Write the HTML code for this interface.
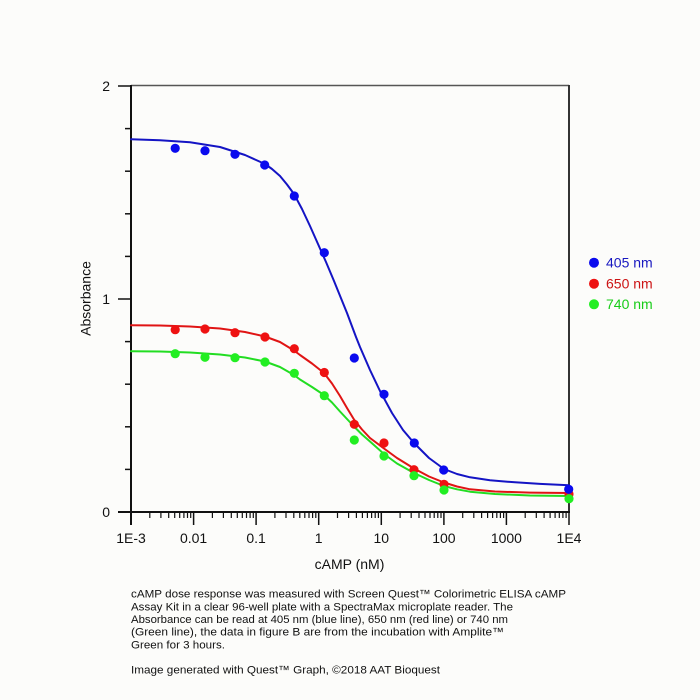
<!DOCTYPE html>
<html>
<head>
<meta charset="utf-8">
<style>
html,body{margin:0;padding:0;background:#fcfcfa;}
svg{display:block;}
text{font-family:"Liberation Sans",Arial,sans-serif;}
</style>
</head>
<body>
<svg width="700" height="700" viewBox="0 0 700 700" xmlns="http://www.w3.org/2000/svg">
<rect x="0" y="0" width="700" height="700" fill="#fcfcfa"/>

<!-- frame -->
<line x1="131" y1="85.5" x2="569" y2="85.5" stroke="#555" stroke-width="1.5"/>
<line x1="569" y1="85" x2="569" y2="513" stroke="#333" stroke-width="2"/>
<!-- left axis -->
<line x1="131" y1="85" x2="131" y2="525" stroke="#111" stroke-width="2"/>
<!-- bottom axis -->
<line x1="118" y1="512" x2="570" y2="512" stroke="#111" stroke-width="2"/>

<!-- y ticks -->
<g stroke="#111" stroke-width="1.5">
<line x1="118" y1="86" x2="131" y2="86"/>
<line x1="118" y1="299" x2="131" y2="299"/>
<line x1="125" y1="128.6" x2="131" y2="128.6"/>
<line x1="125" y1="171.2" x2="131" y2="171.2"/>
<line x1="125" y1="213.8" x2="131" y2="213.8"/>
<line x1="125" y1="256.4" x2="131" y2="256.4"/>
<line x1="125" y1="341.6" x2="131" y2="341.6"/>
<line x1="125" y1="384.2" x2="131" y2="384.2"/>
<line x1="125" y1="426.8" x2="131" y2="426.8"/>
<line x1="125" y1="469.4" x2="131" y2="469.4"/>
</g>

<!-- x ticks -->
<g stroke="#111" stroke-width="1.5">
<line x1="193.6" y1="512" x2="193.6" y2="525"/>
<line x1="256.1" y1="512" x2="256.1" y2="525"/>
<line x1="318.7" y1="512" x2="318.7" y2="525"/>
<line x1="381.3" y1="512" x2="381.3" y2="525"/>
<line x1="443.9" y1="512" x2="443.9" y2="525"/>
<line x1="506.4" y1="512" x2="506.4" y2="525"/>
<line x1="569" y1="512" x2="569" y2="525"/>
</g>
<g stroke="#111" stroke-width="1.2" id="minors">
<!-- decade 1E-3 -->
<line x1="149.8" y1="512" x2="149.8" y2="518"/><line x1="160.9" y1="512" x2="160.9" y2="518"/><line x1="168.7" y1="512" x2="168.7" y2="518"/><line x1="174.7" y1="512" x2="174.7" y2="518"/><line x1="179.7" y1="512" x2="179.7" y2="518"/><line x1="183.9" y1="512" x2="183.9" y2="518"/><line x1="187.5" y1="512" x2="187.5" y2="518"/><line x1="190.7" y1="512" x2="190.7" y2="518"/>
<!-- decade 0.01 -->
<line x1="212.4" y1="512" x2="212.4" y2="518"/><line x1="223.4" y1="512" x2="223.4" y2="518"/><line x1="231.3" y1="512" x2="231.3" y2="518"/><line x1="237.3" y1="512" x2="237.3" y2="518"/><line x1="242.3" y1="512" x2="242.3" y2="518"/><line x1="246.5" y1="512" x2="246.5" y2="518"/><line x1="250.1" y1="512" x2="250.1" y2="518"/><line x1="253.3" y1="512" x2="253.3" y2="518"/>
<!-- decade 0.1 -->
<line x1="274.9" y1="512" x2="274.9" y2="518"/><line x1="286" y1="512" x2="286" y2="518"/><line x1="293.8" y1="512" x2="293.8" y2="518"/><line x1="299.8" y1="512" x2="299.8" y2="518"/><line x1="304.8" y1="512" x2="304.8" y2="518"/><line x1="309" y1="512" x2="309" y2="518"/><line x1="312.6" y1="512" x2="312.6" y2="518"/><line x1="315.8" y1="512" x2="315.8" y2="518"/>
<!-- decade 1 -->
<line x1="337.5" y1="512" x2="337.5" y2="518"/><line x1="348.6" y1="512" x2="348.6" y2="518"/><line x1="356.4" y1="512" x2="356.4" y2="518"/><line x1="362.4" y1="512" x2="362.4" y2="518"/><line x1="367.4" y1="512" x2="367.4" y2="518"/><line x1="371.6" y1="512" x2="371.6" y2="518"/><line x1="375.2" y1="512" x2="375.2" y2="518"/><line x1="378.4" y1="512" x2="378.4" y2="518"/>
<!-- decade 10 -->
<line x1="400.1" y1="512" x2="400.1" y2="518"/><line x1="411.2" y1="512" x2="411.2" y2="518"/><line x1="419" y1="512" x2="419" y2="518"/><line x1="425" y1="512" x2="425" y2="518"/><line x1="430" y1="512" x2="430" y2="518"/><line x1="434.2" y1="512" x2="434.2" y2="518"/><line x1="437.8" y1="512" x2="437.8" y2="518"/><line x1="441" y1="512" x2="441" y2="518"/>
<!-- decade 100 -->
<line x1="462.7" y1="512" x2="462.7" y2="518"/><line x1="473.8" y1="512" x2="473.8" y2="518"/><line x1="481.6" y1="512" x2="481.6" y2="518"/><line x1="487.6" y1="512" x2="487.6" y2="518"/><line x1="492.6" y1="512" x2="492.6" y2="518"/><line x1="496.8" y1="512" x2="496.8" y2="518"/><line x1="500.4" y1="512" x2="500.4" y2="518"/><line x1="503.6" y1="512" x2="503.6" y2="518"/>
<!-- decade 1000 -->
<line x1="525.2" y1="512" x2="525.2" y2="518"/><line x1="536.3" y1="512" x2="536.3" y2="518"/><line x1="544.1" y1="512" x2="544.1" y2="518"/><line x1="550.1" y1="512" x2="550.1" y2="518"/><line x1="555.1" y1="512" x2="555.1" y2="518"/><line x1="559.3" y1="512" x2="559.3" y2="518"/><line x1="562.9" y1="512" x2="562.9" y2="518"/><line x1="566.1" y1="512" x2="566.1" y2="518"/>
</g>

<!-- y labels -->
<g font-size="14" fill="#111" text-anchor="end">
<text x="110" y="91">2</text>
<text x="110" y="304">1</text>
<text x="110" y="517">0</text>
</g>
<!-- x labels -->
<g font-size="14" fill="#111" text-anchor="middle">
<text x="131" y="543">1E-3</text>
<text x="193.6" y="543">0.01</text>
<text x="256.1" y="543">0.1</text>
<text x="318.7" y="543">1</text>
<text x="381.3" y="543">10</text>
<text x="443.9" y="543">100</text>
<text x="506.4" y="543">1000</text>
<text x="569" y="543">1E4</text>
</g>
<text x="349.5" y="569" font-size="14" fill="#111" text-anchor="middle">cAMP (nM)</text>
<text transform="translate(90.5,298.5) rotate(-90)" font-size="14" fill="#111" text-anchor="middle">Absorbance</text>

<!-- curves -->
<g fill="none" stroke-width="2" stroke-linejoin="round" stroke-linecap="round">
<path stroke="#1414c4" d="M131,139.3 L160,140.3 190,142.3 220,147 245,155 265,164 272,169 280,176 287,184.5 294,194 302,209 310,226 318,244 326,262 334,281 347,313 356,337 360,347 370,370 380,391 392,413 403,430 414,443 429,458 444,469 457,474 470,477.3 490,480.3 515,482.3 540,483.9 569,485.3"/>
<path stroke="#e01414" d="M131,325.3 L160,325.5 190,326.5 220,328.5 245,332 265,336.5 280,342 294,350.5 300,355 312,363.5 324,373 332,383.5 340,396 347,408 354,419.5 362,429.5 370,438 384,448.5 397,458 414,468.5 429,476.5 444,482.5 457,486.5 470,489.3 495,491.5 530,492.6 569,493"/>
<path stroke="#22dd22" d="M131,351.3 L160,351.5 190,352.5 220,354.5 245,357.5 265,361.5 280,367 294,375 300,379.5 312,387 324,395 332,402.5 340,411.5 347,419 354,426.5 362,434.5 370,441.5 384,454 397,463.5 414,473 429,480 444,486 457,489.3 470,491.7 495,494 530,495.5 569,496"/>
</g>

<!-- points -->
<g fill="#ee1111">
<circle cx="175.2" cy="329.7" r="4.6"/><circle cx="205" cy="329" r="4.6"/><circle cx="235" cy="332.7" r="4.6"/><circle cx="265" cy="337" r="4.6"/><circle cx="294.3" cy="348.7" r="4.6"/><circle cx="324.3" cy="372.5" r="4.6"/><circle cx="354.3" cy="424.3" r="4.6"/><circle cx="384" cy="443" r="4.6"/><circle cx="414" cy="469.7" r="4.6"/><circle cx="444" cy="484.3" r="4.6"/><circle cx="569" cy="494" r="4.6"/>
</g>
<g fill="#22ee22">
<circle cx="175.2" cy="353.7" r="4.6"/><circle cx="205" cy="357.3" r="4.6"/><circle cx="235" cy="357.7" r="4.6"/><circle cx="265" cy="362" r="4.6"/><circle cx="294.3" cy="373.3" r="4.6"/><circle cx="324.3" cy="395.7" r="4.6"/><circle cx="354.3" cy="440" r="4.6"/><circle cx="384" cy="456" r="4.6"/><circle cx="414" cy="475.7" r="4.6"/><circle cx="444" cy="490" r="4.6"/><circle cx="569" cy="498.7" r="4.6"/>
</g>
<g fill="#0a0aee">
<circle cx="175.2" cy="148.3" r="4.6"/><circle cx="205" cy="150.7" r="4.6"/><circle cx="235" cy="154.3" r="4.6"/><circle cx="264.7" cy="165" r="4.6"/><circle cx="294.3" cy="196" r="4.6"/><circle cx="324.3" cy="252.7" r="4.6"/><circle cx="354.3" cy="358" r="4.6"/><circle cx="384" cy="394.3" r="4.6"/><circle cx="414.3" cy="443" r="4.6"/><circle cx="443.7" cy="470" r="4.6"/><circle cx="568.7" cy="489.3" r="4.6"/>
</g>

<!-- legend -->
<circle cx="594" cy="262.7" r="5" fill="#0a0aee"/>
<circle cx="594" cy="283.7" r="5" fill="#ee1111"/>
<circle cx="594" cy="304.3" r="5" fill="#22ee22"/>
<g font-size="14">
<text x="606" y="267.5" fill="#1818c0">405 nm</text>
<text x="606" y="288.5" fill="#cc1414">650 nm</text>
<text x="606" y="309" fill="#18cc18">740 nm</text>
</g>

<!-- caption -->
<g font-size="11" fill="#111">
<text x="131" y="597.7" textLength="435" lengthAdjust="spacingAndGlyphs">cAMP dose response was measured with Screen Quest™ Colorimetric ELISA cAMP</text>
<text x="131" y="610.4" textLength="382" lengthAdjust="spacingAndGlyphs">Assay Kit in a clear 96-well plate with a SpectraMax microplate reader. The</text>
<text x="131" y="623" textLength="377" lengthAdjust="spacingAndGlyphs">Absorbance can be read at 405 nm (blue line), 650 nm (red line) or 740 nm</text>
<text x="131" y="635.7" textLength="373" lengthAdjust="spacingAndGlyphs">(Green line), the data in figure B are from the incubation with Amplite™</text>
<text x="131" y="648.3" textLength="94" lengthAdjust="spacingAndGlyphs">Green for 3 hours.</text>
<text x="131" y="673.7" textLength="309" lengthAdjust="spacingAndGlyphs">Image generated with Quest™ Graph, ©2018 AAT Bioquest</text>
</g>
</svg>
</body>
</html>
